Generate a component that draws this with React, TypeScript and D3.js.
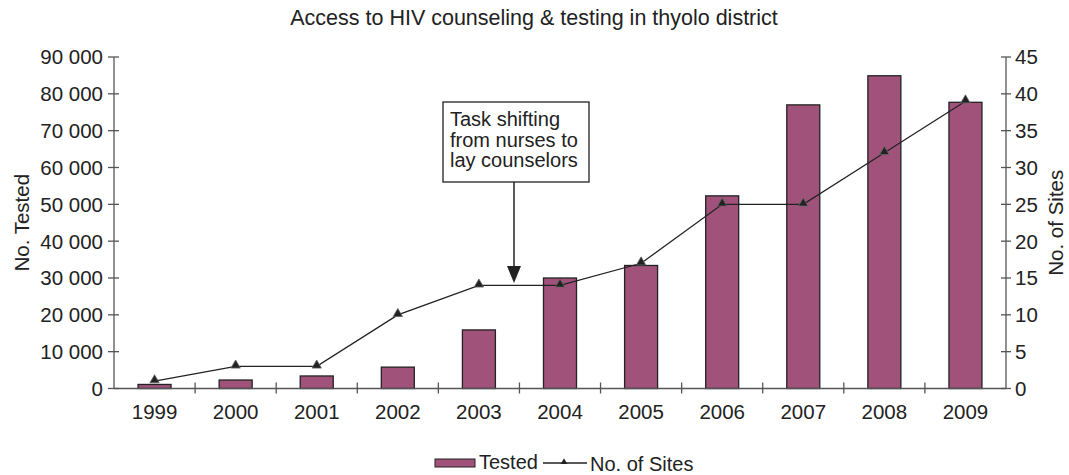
import React from "react";
import * as d3 from "d3";

const years = ["1999","2000","2001","2002","2003","2004","2005","2006","2007","2008","2009"];
const tested = [1100, 2300, 3400, 5800, 15900, 30000, 33400, 52300, 77000, 84900, 77700];
const sites = [1, 3, 3, 10, 14, 14, 17, 25, 25, 32, 39];
const leftTicks = [0,10000,20000,30000,40000,50000,60000,70000,80000,90000];
const rightTicks = [0,5,10,15,20,25,30,35,40,45];
const annotationLines = ["Task shifting", "from nurses to", "lay counselors"];

const W = 1069, H = 475;
const M = { left: 114, right: 1006, top: 57, bottom: 388.5 };
const FONT = "Liberation Sans, Arial, Helvetica, sans-serif";
const BAR = "#A0527A";
const INK = "#222";
const AXIS = "#555";
const FS = 20.5;

export default function App() {
  const xb = d3.scaleBand<string>().domain(years).range([M.left, M.right]);
  const yL = d3.scaleLinear().domain([0, 90000]).range([M.bottom, M.top]);
  const yR = d3.scaleLinear().domain([0, 45]).range([M.bottom, M.top]);
  const fmt = (v: number) => v === 0 ? "0" : d3.format(",")(v).replace(/,/g, " ");
  const cx = (y: string) => (xb(y) as number) + xb.bandwidth() / 2;
  const line = d3.line<number>().x((_, i) => cx(years[i])).y(d => yR(d));
  const tri = d3.symbol().type(d3.symbolTriangle).size(38);
  const bw = 33;

  const ax = 514, boxL = 443, boxR = 589, boxT = 102, boxB = 182;
  const midY = (M.top + M.bottom) / 2;

  return (
    <svg width={W} height={H} style={{ position: "absolute", left: 0, top: 0 }} fontFamily={FONT}>
      <rect width={W} height={H} fill="#fff" />
      <text x={534} y={25} fontSize={21.5} textAnchor="middle" fill="#222">
        Access to HIV counseling &amp; testing in thyolo district
      </text>
      {/* bars */}
      {years.map((yr, i) => (
        <rect key={yr} x={cx(yr) - bw / 2} y={yL(tested[i])} width={bw}
          height={M.bottom - yL(tested[i])} fill={BAR} stroke={INK} strokeWidth={1.3} />
      ))}
      {/* axes */}
      <line x1={M.left} x2={M.left} y1={M.top} y2={M.bottom} stroke={AXIS} strokeWidth={1.3} />
      <line x1={M.right} x2={M.right} y1={M.top} y2={M.bottom} stroke={AXIS} strokeWidth={1.3} />
      <line x1={M.left} x2={M.right} y1={M.bottom} y2={M.bottom} stroke={AXIS} strokeWidth={1.3} />
      {leftTicks.map(t => (
        <g key={"l" + t}>
          <line x1={M.left - 6} x2={M.left + 5} y1={yL(t)} y2={yL(t)} stroke={AXIS} strokeWidth={1.3} />
          <text x={M.left - 11} y={yL(t)} dy="0.36em" fontSize={FS} textAnchor="end" fill="#222">{fmt(t)}</text>
        </g>
      ))}
      {rightTicks.map(t => (
        <g key={"r" + t}>
          <line x1={M.right - 5} x2={M.right + 5} y1={yR(t)} y2={yR(t)} stroke={AXIS} strokeWidth={1.3} />
          <text x={M.right + 9} y={yR(t)} dy="0.36em" fontSize={FS} textAnchor="start" fill="#222">{t}</text>
        </g>
      ))}
      {years.slice(1).map(yr => (
        <line key={"xt" + yr} x1={xb(yr)} x2={xb(yr)} y1={M.bottom - 6} y2={M.bottom + 5} stroke={AXIS} strokeWidth={1.3} />
      ))}
      {years.map(yr => (
        <text key={"xl" + yr} x={cx(yr)} y={419} fontSize={FS} textAnchor="middle" fill="#222">{yr}</text>
      ))}
      <text transform={`translate(29,${midY}) rotate(-90)`} fontSize={FS} textAnchor="middle" fill="#222">No. Tested</text>
      <text transform={`translate(1063,${midY}) rotate(-90)`} fontSize={FS} textAnchor="middle" fill="#222">No. of Sites</text>
      {/* line */}
      <path d={line(sites) as string} fill="none" stroke={INK} strokeWidth={1.3} />
      {sites.map((s, i) => (
        <path key={"m" + i} d={tri() as string} transform={`translate(${cx(years[i])},${yR(s) - 1})`} fill={INK} stroke="#666" strokeWidth={0.8} />
      ))}
      {/* annotation */}
      <rect x={boxL} y={boxT} width={boxR - boxL} height={boxB - boxT} fill="#fff" stroke={INK} strokeWidth={1.3} />
      {annotationLines.map((l, i) => (
        <text key={l} x={450} y={126 + i * 20.5} fontSize={20} fill="#222">{l}</text>
      ))}
      <line x1={ax} x2={ax} y1={boxB} y2={268} stroke={INK} strokeWidth={1.5} />
      <path d={`M${ax - 7},266 L${ax + 7},266 L${ax},283 Z`} fill={INK} />
      {/* legend */}
      <rect x={435} y={459} width={40} height={8} fill={BAR} stroke={INK} strokeWidth={1} />
      <text x={479} y={469} fontSize={20} fill="#222">Tested</text>
      <line x1={543} x2={587} y1={463} y2={463} stroke={INK} strokeWidth={1.3} />
      <path d={tri() as string} transform={`translate(564,462) scale(0.7)`} fill={INK} />
      <text x={590} y={471} fontSize={20} fill="#222">No. of Sites</text>
    </svg>
  );
}
